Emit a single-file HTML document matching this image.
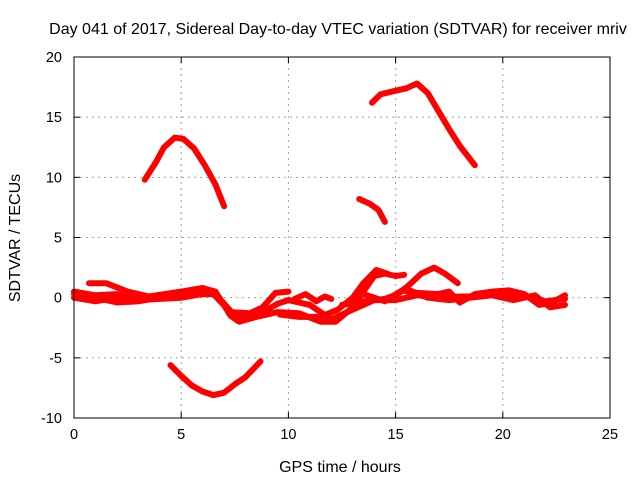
<!DOCTYPE html>
<html><head><meta charset="utf-8"><style>
body{margin:0;background:#fff}
svg{display:block;font-family:"Liberation Sans",sans-serif;font-size:14.5px}
</style></head><body>
<svg id="c" width="640" height="480">
<rect width="640" height="480" fill="#fff"/>
<text x="338" y="34" text-anchor="middle" font-size="16">Day 041 of 2017, Sidereal Day-to-day VTEC variation (SDTVAR) for receiver mriv</text>
<text x="340" y="472" text-anchor="middle" font-size="16">GPS time / hours</text>
<text transform="translate(20,238) rotate(-90)" text-anchor="middle" font-size="16">SDTVAR / TECUs</text>
<g id="grid"></g>
<g id="ticks"></g>
<g id="series"></g>
<rect x="74" y="57" width="536" height="361" fill="none" stroke="#000" stroke-width="1"/>
</svg>
<script>
const xTicks=[0,5,10,15,20,25];
const yTicks=[-10,-5,0,5,10,15,20];
const arcTop=[[3.3,9.8],[3.8,11.2],[4.2,12.5],[4.7,13.3],[5.1,13.2],[5.6,12.4],[6.1,11.0],[6.6,9.4],[7.0,7.6]];
const arcBottom=[[4.5,-5.6],[5.0,-6.5],[5.5,-7.3],[6.0,-7.8],[6.5,-8.1],[7.0,-7.9],[7.5,-7.2],[8.0,-6.6],[8.7,-5.3]];
const segC=[[13.3,8.2],[13.8,7.8],[14.2,7.3],[14.5,6.3]];
const segD=[[13.9,16.2],[14.3,16.9],[15.0,17.2],[15.5,17.4],[16.0,17.8],[16.5,17.0],[17.0,15.5],[17.5,14.0],[18.0,12.6],[18.7,11.0]];
const traceE=[[0,0.3],[1,0.0],[2,-0.4],[3,-0.3],[4,0.0],[5,0.3],[6,0.7],[6.5,0.5],[7.5,-1.5],[8.5,-1.5],[9.5,-0.5],[10,-0.2],[11,-0.6],[12,-1.8],[13,-1.0],[14,-0.2],[15,-0.2],[16,0.2],[17,0.0],[18,0.1],[19,0.1],[20,0.4],[21,0.1],[22,-0.3],[22.9,-0.1]];
const traceF=[[0.7,1.2],[1.5,1.2],[2.5,0.5],[3.5,0.1],[5,0.5],[6,0.8],[6.6,0.5],[7.3,-1.5],[7.7,-2.0],[8.5,-1.6],[9.5,-1.2],[10.5,-1.3],[11.5,-2.0],[12.2,-2.0],[13,-0.8],[13.5,0.5],[14,1.8],[14.5,2.0],[15,1.8],[15.4,1.9]];
const traceG=[[0,0.5],[1,0.2],[2,0.3],[3,-0.2],[4,-0.1],[5,0],[6,0.3],[6.5,0.3],[7.3,-1.2],[8.2,-1.3],[8.8,-0.8],[9.4,0.4],[10,0.5]];
const traceH=[[9.6,-1.4],[10.5,-1.6],[11.5,-1.6],[12.3,-1.0],[13,0.0],[13.5,1.2],[14.1,2.3],[14.6,2.0]];
const traceI=[[12.5,-0.6],[13.5,-0.3],[14.5,-0.1],[15.1,0.3],[15.6,1.0],[16.2,2.0],[16.8,2.5],[17.3,2.0],[17.9,1.2]];
const traceJ=[[10.3,-0.1],[10.8,0.3],[11.3,-0.3],[11.7,0.1],[12.0,-0.1]];
const traceK=[[13.5,0.3],[14.5,-0.3],[15.3,0.6],[16,0.4],[17,0.3],[17.5,0.5],[18,-0.4],[18.7,0.3],[19.5,0.5],[20.3,0.6],[21,0.3],[21.7,-0.6],[22.3,-0.4],[22.9,0.2]];
const traceL=[[0,0],[1,-0.3],[2,0],[3,0.1]];
const traceM=[[15.5,0.7],[16.5,0.0],[17.5,-0.2],[18.5,0.0],[19.5,0.2],[20.5,-0.2],[21.5,0.2],[22.2,-0.8],[22.9,-0.6]];
const allSeries=[arcTop,arcBottom,segC,segD,traceE,traceF,traceG,traceH,traceI,traceJ,traceK,traceL,traceM];
const names=['arc-top','arc-bottom','segment-c','segment-d','trace-e','trace-f','trace-g','trace-h','trace-i','trace-j','trace-k','trace-l','trace-m'];
const X0=74,X1=610,Y0=418,Y1=57;
function sx(v){return X0+(v-0)/(25-0)*(X1-X0);}
function sy(v){return Y0-(v+10)/(30)*(Y0-Y1);}
const NS='http://www.w3.org/2000/svg';
const grid=document.getElementById('grid'),ticks=document.getElementById('ticks'),ser=document.getElementById('series');
function mk(t,a,p){const e=document.createElementNS(NS,t);for(const k in a)e.setAttribute(k,a[k]);p.appendChild(e);return e;}
xTicks.forEach(t=>{
 const x=sx(t);
 if(t>0&&t<25){const g=mk('line',{x1:x,x2:x,y1:Y0,y2:Y1,stroke:'#a0a0a0','stroke-dasharray':'2,4'},grid);
 
 }
 mk('line',{x1:x,x2:x,y1:Y0,y2:Y0-6,stroke:'#000'},ticks);
 mk('line',{x1:x,x2:x,y1:Y1,y2:Y1+6,stroke:'#000'},ticks);
 const l=mk('text',{x:x,y:Y0+21,'text-anchor':'middle'},ticks);l.textContent=t;
 
 
});
yTicks.forEach(t=>{
 const y=sy(t);
 if(t>-10&&t<20){const g=mk('line',{x1:X0,x2:X1,y1:y,y2:y,stroke:'#a0a0a0','stroke-dasharray':'2,4'},grid);
 
 }
 mk('line',{x1:X0,x2:X0+6,y1:y,y2:y,stroke:'#000'},ticks);
 mk('line',{x1:X1,x2:X1-6,y1:y,y2:y,stroke:'#000'},ticks);
 const l=mk('text',{x:X0-12,y:y+5,'text-anchor':'end'},ticks);l.textContent=t;
 
 
});
allSeries.forEach((s,i)=>{
 const p=mk('polyline',{points:s.map(d=>sx(d[0]).toFixed(1)+','+sy(d[1]).toFixed(1)).join(' '),fill:'none',stroke:'#ff0000','stroke-width':6,'stroke-linejoin':'round','stroke-linecap':'round'},ser);
 
 
});
</script>
</body></html>
